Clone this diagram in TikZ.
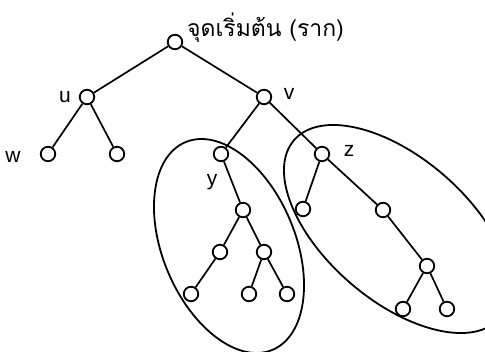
\documentclass[tikz,border=0pt]{standalone}
\usepackage{fontspec}
\setmainfont{Liberation Sans}
\newfontfamily\thaifont[Script=Thai]{Loma}
\begin{document}
\begin{tikzpicture}[x=1pt,y=-1pt,
  vtx/.style={circle,draw,line width=1.8pt,minimum size=14.5pt,inner sep=0pt},
  edge/.style={line width=1.7pt},
  lbl/.style={inner sep=0pt,font=\fontsize{21}{23}\selectfont},
  grp/.style={line width=1.8pt}]
\useasboundingbox (0,0) rectangle (485,352);
\clip (0,0) rectangle (485,352);
\node[vtx] (r) at (175,42) {};
\node[vtx] (u) at (87,97) {};
\node[vtx] (v) at (264,97) {};
\node[vtx] (w) at (48,154) {};
\node[vtx] (u2) at (117,154) {};
\node[vtx] (y) at (221,154) {};
\node[vtx] (z) at (322,154) {};
\node[vtx] (y1) at (243,210) {};
\node[vtx] (y2) at (220,252) {};
\node[vtx] (y3) at (264,252) {};
\node[vtx] (y4) at (191,294) {};
\node[vtx] (y5) at (249,294) {};
\node[vtx] (y6) at (287,294) {};
\node[vtx] (z1) at (303,209) {};
\node[vtx] (z2) at (383,210) {};
\node[vtx] (z3) at (427,266) {};
\node[vtx] (z4) at (403,309) {};
\node[vtx] (z5) at (447,309) {};
\draw[edge] (r) -- (u);
\draw[edge] (r) -- (v);
\draw[edge] (u) -- (w);
\draw[edge] (u) -- (u2);
\draw[edge] (v) -- (y);
\draw[edge] (v) -- (z);
\draw[edge] (y) -- (y1);
\draw[edge] (y1) -- (y2);
\draw[edge] (y1) -- (y3);
\draw[edge] (y2) -- (y4);
\draw[edge] (y3) -- (y5);
\draw[edge] (y3) -- (y6);
\draw[edge] (z) -- (z1);
\draw[edge] (z) -- (z2);
\draw[edge] (z2) -- (z3);
\draw[edge] (z3) -- (z4);
\draw[edge] (z3) -- (z5);
\draw[grp,rotate around={-67.3:(229,246)}] (229,246) ellipse [x radius=112.6, y radius=66.3];
\draw[grp,rotate around={-40.8:(397,229)}] (397,229) ellipse [x radius=136, y radius=71.4];
\node[lbl,anchor=base west,font=\fontsize{23}{25}\selectfont] (rl) at (187,37) {\thaifont จุดเริ่มต้น (ราก)};
\node[lbl,anchor=base] (ul) at (65,103) {u};
\node[lbl,anchor=base] (vl) at (289,100) {v};
\node[lbl,anchor=base] (wl) at (13,163) {w};
\node[lbl,anchor=base] (zl) at (349,157) {z};
\node[lbl,anchor=base] (yl) at (212,186) {y};
\end{tikzpicture}
\end{document}
